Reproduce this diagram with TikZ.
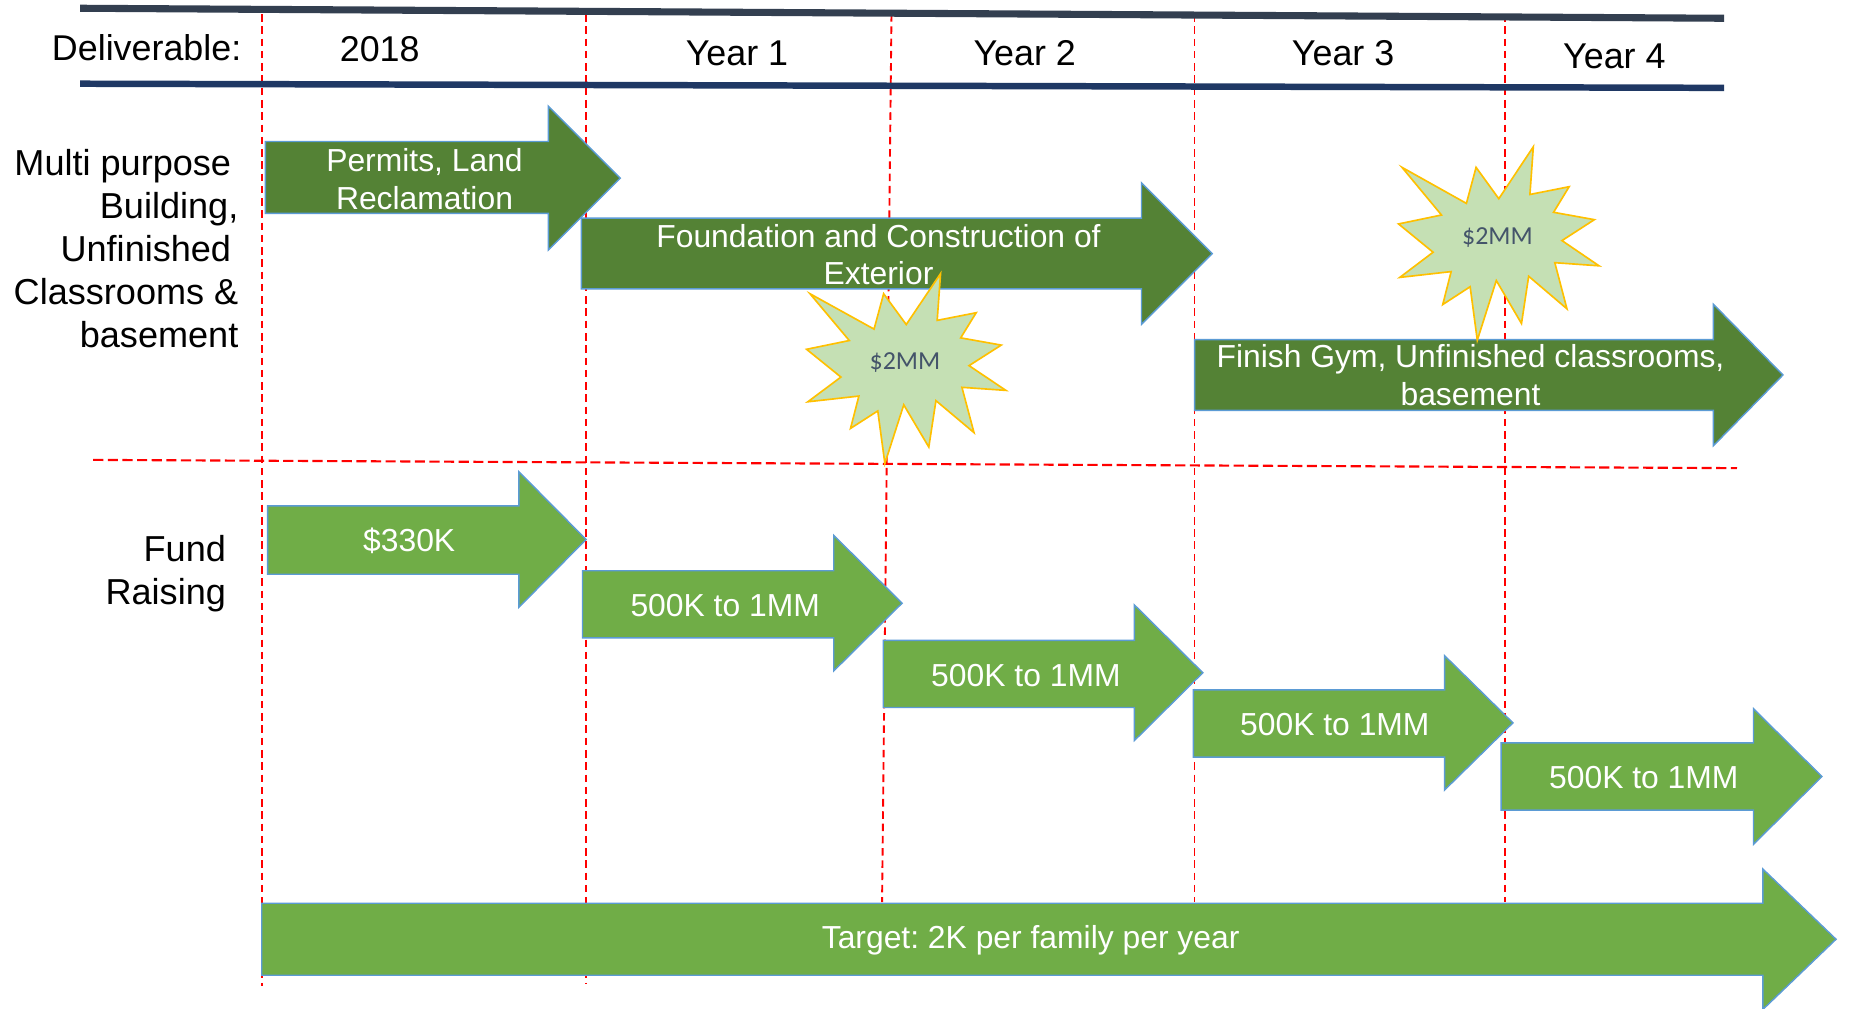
\documentclass[tikz,border=0pt]{standalone}
\usepackage{fontspec}
\setmainfont{Liberation Sans}
\newfontfamily\burstfont{Carlito}
\frenchspacing

\definecolor{buildgreen}{HTML}{548235}
\definecolor{fundgreen}{HTML}{70AD47}
\definecolor{edgeblue}{HTML}{5B9BD5}
\definecolor{burstfill}{HTML}{C5E0B4}
\definecolor{burstedge}{HTML}{FFC000}
\definecolor{burstink}{HTML}{44546A}
\definecolor{ruletop}{HTML}{333F50}
\definecolor{rulebottom}{HTML}{1F3864}

\tikzset{
    buildarrow/.style={fill=buildgreen, draw=edgeblue, line width=0.6pt},
    fundarrow/.style={fill=fundgreen, draw=edgeblue, line width=0.6pt},
    arrowtext/.style={text=white, font=\fontsize{13.5}{16}\selectfont, align=center, inner sep=0pt},
    headtext/.style={font=\fontsize{15.2}{18.25}\selectfont, inner sep=0pt},
    rowlabel/.style={font=\fontsize{15.3}{18.25}\selectfont, align=right, anchor=north east, inner sep=0pt},
    yearline/.style={red, line width=0.8pt, dash pattern=on 3.2pt off 2pt},
    rowline/.style={red, line width=0.9pt, dash pattern=on 4.3pt off 1.9pt},
    burst/.style={fill=burstfill, draw=burstedge, line width=0.7pt},
    bursttext/.style={text=burstink, font=\burstfont\fontsize{11}{13}\selectfont, inner sep=0pt},
}

% #1 style, #2 left, #3 head start, #4 tip, #5 top, #6 bottom, #7 head top, #8 head bottom
\newcommand{\blockarrow}[8]{%
    \draw[#1] (#2,#5) -- (#3,#5) -- (#3,#7) -- (#4,{(#7+#8)/2}) -- (#3,#8) -- (#3,#6) -- (#2,#6) -- cycle;
}

% #1 name, #2 left, #3 top, #4 xscale, #5 yscale
\newcommand{\explosion}[5]{%
    \begin{scope}[shift={(#2,#3)}, xscale=#4, yscale=#5]
        \draw[burst] (108,58) -- (145.22,0) -- (141.55,53.25) -- (183.8,44.57) -- (167.02,73.15)
            -- (210.97,81.37) -- (176.07,104.75) -- (216,132.9) -- (168.37,129.42) -- (181.45,180.95)
            -- (140.2,144.57) -- (132.47,197.37) -- (105.32,149.35) -- (84.85,216) -- (77.15,156.27)
            -- (47.62,176.17) -- (56.67,139.37) -- (1.35,145.87) -- (37.22,117.75) -- (0,86.15)
            -- (46.27,76.17) -- (3.7,22.95) -- (73.12,63.2) -- (83.52,22.95) -- cycle;
        \node[bursttext] (#1) at (106.6,101.3) {\$2MM};
    \end{scope}
}

\begin{document}
\begin{tikzpicture}[x=0.5pt, y=-0.5pt]
    \path[use as bounding box, fill=white] (0,0) rectangle (1568,855);

    % year columns and row separator
    \draw[yearline] (222,12) -- (222,836);
    \draw[yearline] (497,12) -- (497,834);
    \draw[yearline] (756,12) -- (748,765);
    \draw[yearline] (1013,12) -- (1013,765);
    \draw[yearline] (1276,12) -- (1276,765);
    \draw[rowline] (79,390) -- (1473,397);

    % header
    \draw[ruletop, line width=3pt] (68,7) -- (1462,15.5);
    \draw[rulebottom, line width=2.75pt] (68,71) -- (1462,74.5);
    \node[headtext, anchor=base east] (deliverable) at (205,51) {Deliverable:};
    \node[headtext, anchor=base] (y2018) at (322,52.5) {2018};
    \node[headtext, anchor=base] (year1) at (625,55.5) {Year 1};
    \node[headtext, anchor=base] (year2) at (869,55.5) {Year 2};
    \node[headtext, anchor=base] (year3) at (1139,55.5) {Year 3};
    \node[headtext, anchor=base] (year4) at (1369,58.5) {Year 4};

    % row labels
    \node[rowlabel] (building) at (202.5,126.5) {Multi purpose\kern.2em\\Building,\\Unfinished\kern.2em\\Classrooms \&\\basement};
    \node[rowlabel] (fundraising) at (192,453.5) {Fund\\Raising};

    % building
    \blockarrow{buildarrow}{225}{465}{526}{120}{181}{90}{212}
    \blockarrow{buildarrow}{493}{968}{1028}{185}{245}{155}{275}
    \blockarrow{buildarrow}{1013}{1453}{1512}{288}{348}{258}{378}
    \node[arrowtext] (permits) at (360,152) {Permits, Land\\Reclamation};
    \node[arrowtext] (foundation) at (745,216) {Foundation and Construction of\\Exterior};
    \node[arrowtext] (finish) at (1247,318) {Finish Gym, Unfinished classrooms,\\basement};

    \explosion{burst1}{684}{232}{0.7824}{0.7454}
    \explosion{burst2}{1186}{124.5}{0.787}{0.7593}

    % fund raising
    \blockarrow{fundarrow}{227}{440}{497}{429}{487}{400}{515}
    \blockarrow{fundarrow}{494}{707}{765}{484}{541}{454}{569}
    \blockarrow{fundarrow}{749}{962}{1020}{543}{600}{513}{628}
    \blockarrow{fundarrow}{1012}{1225}{1283}{585}{642}{556}{670}
    \blockarrow{fundarrow}{1273}{1487}{1545}{630}{687}{601}{716}
    \blockarrow{fundarrow}{222}{1495}{1557}{766}{827}{737}{856}
    \node[arrowtext] (fund1) at (347,459) {\$330K};
    \node[arrowtext] (fund2) at (615,513.5) {500K to 1MM};
    \node[arrowtext] (fund3) at (870,572.5) {500K to 1MM};
    \node[arrowtext] (fund4) at (1132,614.5) {500K to 1MM};
    \node[arrowtext] (fund5) at (1394,659.5) {500K to 1MM};
    \node[arrowtext] (target) at (874,797.5) {Target: 2K per family per year};
\end{tikzpicture}
\end{document}
